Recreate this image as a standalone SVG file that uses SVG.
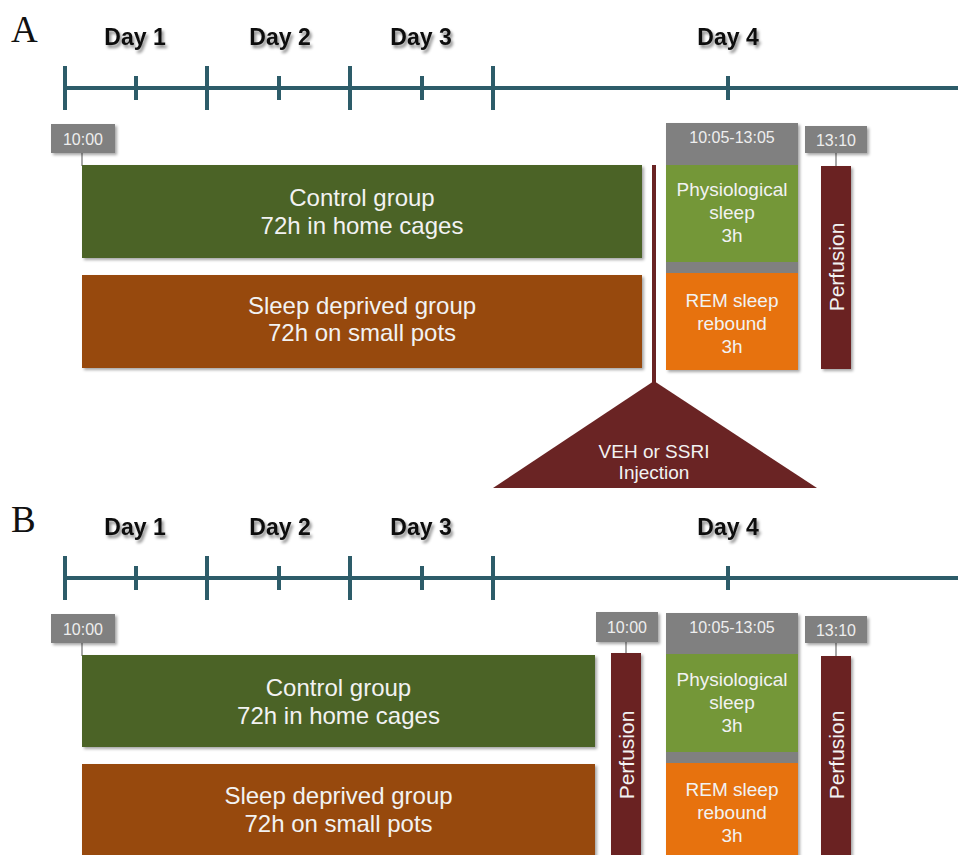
<svg xmlns="http://www.w3.org/2000/svg" width="958" height="855" viewBox="0 0 958 855">
<defs>
<filter id="sh" x="-10%" y="-10%" width="130%" height="130%"><feDropShadow dx="2" dy="2" stdDeviation="1.5" flood-color="#000" flood-opacity="0.35"/></filter>
<filter id="tsh" x="-20%" y="-30%" width="140%" height="180%"><feDropShadow dx="2" dy="3" stdDeviation="1.6" flood-color="#000" flood-opacity="0.45"/></filter>
<style>
.panel{font-family:"Liberation Serif","Times New Roman",serif;font-size:37px;fill:#111}
.day{font-family:"Liberation Sans",Arial,sans-serif;font-size:23px;font-weight:bold;fill:#111;text-anchor:middle;filter:url(#tsh)}
.axis{stroke:#2d5c69;stroke-width:4;fill:none}
.tag{fill:#808080;filter:url(#sh)}
.tagt{font-family:"Liberation Sans",Arial,sans-serif;font-size:16px;fill:#eeeeee;text-anchor:middle}
.tail{stroke:#8a8a8a;stroke-width:1.5}
.ctrl{fill:#4c6325;filter:url(#sh)}
.sd{fill:#974a0b;filter:url(#sh)}
.phys{fill:#749738}
.rem{fill:#e7720e}
.col{fill:#808080;filter:url(#sh)}
.perf{fill:#6a2424;filter:url(#sh)}
.big{font-family:"Liberation Sans",Arial,sans-serif;font-size:24px;fill:#f2f2f2;text-anchor:middle}
.mid{font-family:"Liberation Sans",Arial,sans-serif;font-size:19px;fill:#f2f2f2;text-anchor:middle}
.pert{font-family:"Liberation Sans",Arial,sans-serif;font-size:21px;fill:#f2f2f2;text-anchor:middle}
.inj{stroke:#6a2424;stroke-width:4}
</style>
</defs>
<rect width="958" height="855" fill="#ffffff"/>

<!-- Panel A -->
<text class="panel" x="11" y="42">A</text>
<g id="A-timeline">
<line class="axis" x1="63" y1="88" x2="958" y2="88"/>
<line class="axis" x1="65" y1="66" x2="65" y2="110"/>
<line class="axis" x1="207" y1="66" x2="207" y2="110"/>
<line class="axis" x1="350" y1="66" x2="350" y2="110"/>
<line class="axis" x1="493" y1="66" x2="493" y2="110"/>
<line class="axis" x1="136" y1="76" x2="136" y2="100"/>
<line class="axis" x1="279" y1="76" x2="279" y2="100"/>
<line class="axis" x1="422" y1="76" x2="422" y2="100"/>
<line class="axis" x1="728" y1="76" x2="728" y2="100"/>
<text class="day" x="135" y="45">Day 1</text>
<text class="day" x="280" y="45">Day 2</text>
<text class="day" x="421" y="45">Day 3</text>
<text class="day" x="728" y="45">Day 4</text>
</g>
<g id="A-connectors">
<line class="tail" x1="82" y1="153" x2="82" y2="166"/>
<line class="tail" x1="836" y1="153" x2="836" y2="167"/>
<line class="inj" x1="654" y1="165" x2="654" y2="384"/>
</g>
<g id="A-t1000"><rect class="tag" x="51" y="124" width="64" height="29"/><text class="tagt" x="83" y="145">10:00</text></g>
<g id="A-control"><rect class="ctrl" x="82" y="165" width="560" height="93"/><text class="big" x="362" y="206">Control group</text><text class="big" x="362" y="234">72h in home cages</text></g>
<g id="A-sd"><rect class="sd" x="82" y="275" width="560" height="93"/><text class="big" x="362" y="314">Sleep deprived group</text><text class="big" x="362" y="341">72h on small pots</text></g>
<g id="A-injection"><polygon points="654,381 493,488 817,488" fill="#6a2424"/><text class="mid" x="654" y="458">VEH or SSRI</text><text class="mid" x="654" y="479">Injection</text></g>
<g id="A-sleep">
<rect class="col" x="666" y="123" width="132" height="247"/>
<text class="tagt" x="732" y="143">10:05-13:05</text>
<rect class="phys" x="666" y="165" width="132" height="97"/>
<text class="mid" x="732" y="196">Physiological</text><text class="mid" x="732" y="219">sleep</text><text class="mid" x="732" y="242">3h</text>
<rect class="rem" x="666" y="273" width="132" height="97"/>
<text class="mid" x="732" y="307">REM sleep</text><text class="mid" x="732" y="330">rebound</text><text class="mid" x="732" y="353">3h</text>
</g>
<g id="A-t1310"><rect class="tag" x="805" y="126" width="62" height="27"/><text class="tagt" x="836" y="146">13:10</text></g>
<g id="A-perfusion"><rect class="perf" x="821" y="166" width="30" height="203"/><text class="pert" transform="translate(843.5,267) rotate(-90)">Perfusion</text></g>

<!-- Panel B -->
<text class="panel" x="11" y="532">B</text>
<g id="B-timeline">
<line class="axis" x1="63" y1="578" x2="958" y2="578"/>
<line class="axis" x1="65" y1="556" x2="65" y2="600"/>
<line class="axis" x1="207" y1="556" x2="207" y2="600"/>
<line class="axis" x1="350" y1="556" x2="350" y2="600"/>
<line class="axis" x1="493" y1="556" x2="493" y2="600"/>
<line class="axis" x1="136" y1="566" x2="136" y2="590"/>
<line class="axis" x1="279" y1="566" x2="279" y2="590"/>
<line class="axis" x1="422" y1="566" x2="422" y2="590"/>
<line class="axis" x1="728" y1="566" x2="728" y2="590"/>
<text class="day" x="135" y="535">Day 1</text>
<text class="day" x="280" y="535">Day 2</text>
<text class="day" x="421" y="535">Day 3</text>
<text class="day" x="728" y="535">Day 4</text>
</g>
<g id="B-connectors">
<line class="tail" x1="82" y1="643" x2="82" y2="656"/>
<line class="tail" x1="626" y1="642" x2="626" y2="654"/>
<line class="tail" x1="836" y1="643" x2="836" y2="657"/>
</g>
<g id="B-t1000"><rect class="tag" x="51" y="614" width="64" height="29"/><text class="tagt" x="83" y="635">10:00</text></g>
<g id="B-control"><rect class="ctrl" x="82" y="655" width="513" height="92"/><text class="big" x="338.5" y="696">Control group</text><text class="big" x="338.5" y="724">72h in home cages</text></g>
<g id="B-sd"><rect class="sd" x="82" y="764" width="513" height="100"/><text class="big" x="338.5" y="804">Sleep deprived group</text><text class="big" x="338.5" y="832">72h on small pots</text></g>
<g id="B-t1000b"><rect class="tag" x="596" y="612" width="62" height="30"/><text class="tagt" x="627" y="633">10:00</text></g>
<g id="B-perfusion1"><rect class="perf" x="611" y="653" width="30" height="210"/><text class="pert" transform="translate(633.5,755) rotate(-90)">Perfusion</text></g>
<g id="B-sleep">
<rect class="col" x="666" y="613" width="132" height="250"/>
<text class="tagt" x="732" y="633">10:05-13:05</text>
<rect class="phys" x="666" y="654" width="132" height="98"/>
<text class="mid" x="732" y="686">Physiological</text><text class="mid" x="732" y="709">sleep</text><text class="mid" x="732" y="732">3h</text>
<rect class="rem" x="666" y="763" width="132" height="100"/>
<text class="mid" x="732" y="796">REM sleep</text><text class="mid" x="732" y="819">rebound</text><text class="mid" x="732" y="842">3h</text>
</g>
<g id="B-t1310"><rect class="tag" x="805" y="616" width="62" height="27"/><text class="tagt" x="836" y="636">13:10</text></g>
<g id="B-perfusion2"><rect class="perf" x="821" y="656" width="30" height="207"/><text class="pert" transform="translate(843.5,755) rotate(-90)">Perfusion</text></g>
</svg>
